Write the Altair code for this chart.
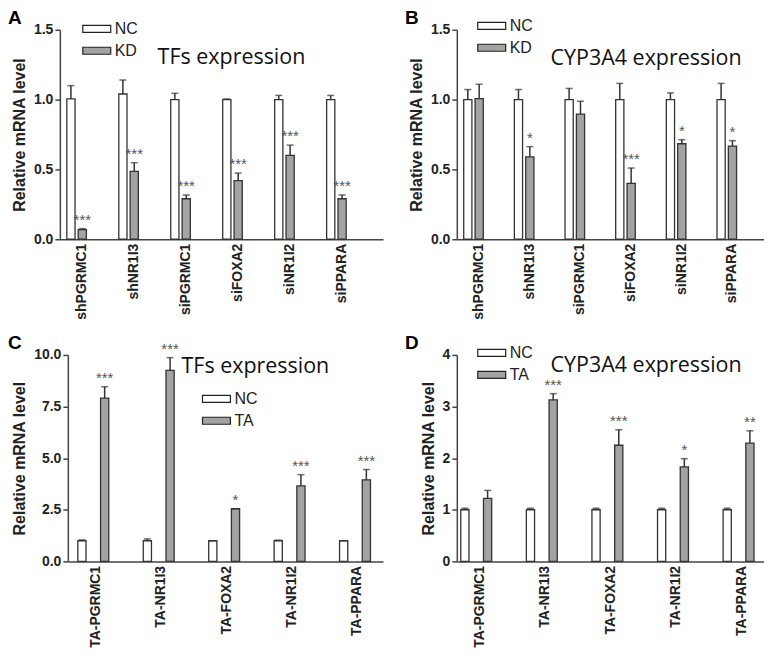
import altair as alt
import pandas as pd

# ---------------- data ----------------
genes_kd = ["shPGRMC1", "shNR1I3", "siPGRMC1", "siFOXA2", "siNR1I2", "siPPARA"]
genes_ta = ["TA-PGRMC1", "TA-NR1I3", "TA-FOXA2", "TA-NR1I2", "TA-PPARA"]

# Panel A: TFs expression (knock-down)
a_nc = [1.005, 1.04, 1.0, 1.0, 1.0, 1.0]
a_nc_err = [0.095, 0.10, 0.045, 0.005, 0.03, 0.03]
a_kd = [0.069, 0.486, 0.29, 0.42, 0.60, 0.29]
a_kd_err = [0.007, 0.062, 0.027, 0.054, 0.074, 0.027]
a_stars = ["***", "***", "***", "***", "***", "***"]

# Panel B: CYP3A4 expression (knock-down)
b_nc = [1.0, 1.0, 1.0, 1.0, 1.0, 1.0]
b_nc_err = [0.072, 0.072, 0.08, 0.116, 0.048, 0.116]
b_kd = [1.007, 0.59, 0.896, 0.40, 0.684, 0.667]
b_kd_err = [0.103, 0.073, 0.092, 0.11, 0.029, 0.039]
b_stars = ["", "*", "", "***", "*", "*"]

# Panel C: TFs expression (activation)
c_nc = [1.0, 1.0, 1.0, 1.0, 1.0]
c_nc_err = [0.04, 0.09, 0.0, 0.03, 0.0]
c_ta = [7.91, 9.25, 2.55, 3.66, 3.95]
c_ta_err = [0.55, 0.62, 0.0, 0.54, 0.50]
c_stars = ["***", "***", "*", "***", "***"]

# Panel D: CYP3A4 expression (activation)
d_nc = [1.0, 1.0, 1.0, 1.0, 1.0]
d_nc_err = [0.03, 0.03, 0.03, 0.03, 0.03]
d_ta = [1.22, 3.13, 2.25, 1.83, 2.29]
d_ta_err = [0.155, 0.12, 0.30, 0.16, 0.24]
d_stars = ["", "***", "***", "*", "**"]

AX = "#444444"
FONT = "Liberation Sans"


def panel(genes, nc, nc_err, tr, tr_err, stars, tr_name, ymax, yticks, yfmt,
          letter, title, title_x, title_y, leg_x, leg_y, width, height,
          xscale, xoff_pad, yoffset=0):
    rows = []
    for i, g in enumerate(genes):
        rows.append(dict(gene=g, group="NC", value=nc[i], top=nc[i] + nc_err[i], star=""))
        rows.append(dict(gene=g, group=tr_name, value=tr[i], top=tr[i] + tr_err[i], star=stars[i]))
    df = pd.DataFrame(rows)
    base = alt.Chart(df)

    x = alt.X("gene:N", sort=genes, scale=xscale,
              axis=alt.Axis(title=None, labelAngle=-90, ticks=False, labelPadding=4,
                            labelFontSize=14))
    xo = alt.XOffset("group:N", sort=["NC", tr_name],
                     scale=alt.Scale(paddingInner=xoff_pad, paddingOuter=0))
    yscale = alt.Scale(domain=[0, ymax], nice=False)
    yaxis = alt.Axis(title="Relative mRNA level", values=yticks, format=yfmt,
                     offset=yoffset, tickSize=5, labelFontSize=14,
                     titleFontSize=16, titlePadding=6)

    bars = base.mark_bar(stroke="#333333", strokeWidth=1.3).encode(
        x=x, xOffset=xo, y=alt.Y("value:Q", scale=yscale, axis=yaxis),
        fill=alt.Fill("group:N",
                      scale=alt.Scale(domain=["NC", tr_name], range=["#ffffff", "#a3a3a3"]),
                      legend=alt.Legend(orient="none", legendX=leg_x, legendY=leg_y,
                                        title=None,
                                        symbolType="M-2,-0.5H2V0.5H-2Z", symbolSize=196,
                                        symbolStrokeColor="#222222", symbolStrokeWidth=1.2,
                                        labelFont=FONT, labelFontSize=16,
                                        labelColor="#222222", labelOffset=10,
                                        rowPadding=6)),
    )
    err = base.mark_rule(color="#333333", strokeWidth=1.5).encode(
        x=x, xOffset=xo,
        y=alt.Y("value:Q", scale=yscale, axis=yaxis), y2="top:Q")
    cap = base.mark_tick(color="#333333", thickness=1.5, size=7, orient="horizontal").encode(
        x=x, xOffset=xo, y=alt.Y("top:Q", scale=yscale, axis=yaxis))
    txt = base.mark_text(baseline="alphabetic", dy=-4, fontSize=15, color="#555555",
                         font=FONT).encode(
        x=x, xOffset=xo, y=alt.Y("top:Q", scale=yscale, axis=yaxis), text="star:N")

    lab = alt.Chart(pd.DataFrame({"t": [letter]})).mark_text(
        align="left", baseline="top", fontSize=19, fontWeight="bold", font=FONT,
        color="#000000").encode(x=alt.value(-52), y=alt.value(-21), text="t:N")
    ttl = alt.Chart(pd.DataFrame({"t": [title]})).mark_text(
        align="left", baseline="alphabetic", fontSize=21.5, font="Open Sans",
        color="#111111").encode(x=alt.value(title_x), y=alt.value(title_y), text="t:N")

    return alt.layer(bars, err, cap, txt, lab, ttl).properties(width=width, height=height)


A = panel(genes_kd, a_nc, a_nc_err, a_kd, a_kd_err, a_stars, "KD", 1.5,
          [0, 0.5, 1.0, 1.5], ".1f", "A", "TFs expression", 98, 34, 29, -9, 324, 210,
          alt.Scale(paddingInner=0.405, paddingOuter=0.312, align=0.215), 0.278)
B = panel(genes_kd, b_nc, b_nc_err, b_kd, b_kd_err, b_stars, "KD", 1.5,
          [0, 0.5, 1.0, 1.5], ".1f", "B", "CYP3A4 expression", 94, 35, 27, -12, 308, 210,
          alt.Scale(paddingInner=0.39, paddingOuter=0.227, align=0.30), 0.278)
C = panel(genes_ta, c_nc, c_nc_err, c_ta, c_ta_err, c_stars, "TA", 10,
          [0, 2.5, 5.0, 7.5, 10.0], ".1f", "C", "TFs expression", 122, 18, 149, 36, 324, 207,
          alt.Scale(range=[8, 324], paddingInner=0.451, paddingOuter=0.134, align=0.57),
          0.286, yoffset=-8)
D = panel(genes_ta, d_nc, d_nc_err, d_ta, d_ta_err, d_stars, "TA", 4,
          [0, 1, 2, 3, 4], "d", "D", "CYP3A4 expression", 94, 17, 27, -10, 308, 207,
          alt.Scale(paddingInner=0.422, paddingOuter=0.053, align=0.57), 0.273)

chart = alt.concat(
    A, B, C, D, columns=2, spacing={"row": 116, "column": 74}, bounds="flush"
).resolve_scale(
    fill="independent"
).properties(
    padding=0
).configure_view(
    stroke=None
).configure_axis(
    grid=False,
    domainColor=AX, domainWidth=1.5, tickColor=AX, tickWidth=1.5,
    labelFont=FONT, labelFontWeight="bold", labelColor="#222222",
    titleFont=FONT, titleFontWeight="bold", titleColor="#222222",
)

chart.save("out.html", embed_options={"renderer": "svg", "actions": False})
